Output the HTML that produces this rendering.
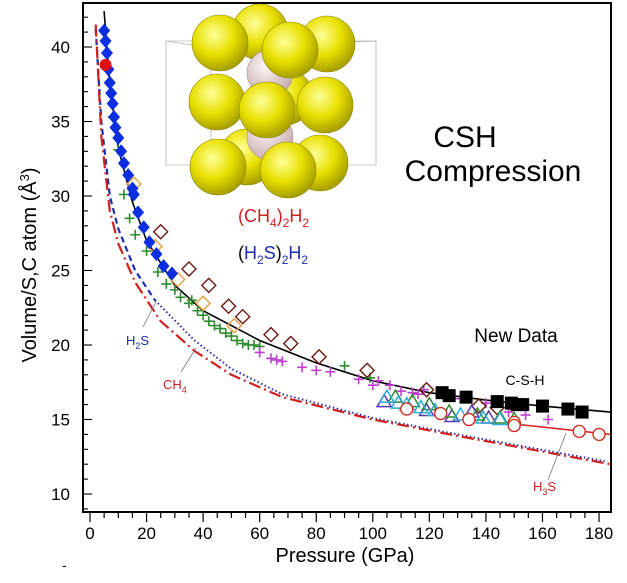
<!DOCTYPE html>
<html><head><meta charset="utf-8"><style>
html,body{margin:0;padding:0;background:#fff;}
svg{display:block;font-family:"Liberation Sans",Arial,sans-serif;}
</style></head><body>
<svg id="chart" width="627" height="583" viewBox="0 0 627 583" xmlns="http://www.w3.org/2000/svg">
<defs>
<radialGradient id="yel" cx="0.4" cy="0.35" r="0.65"><stop offset="0" stop-color="#ffff9a"/><stop offset="0.55" stop-color="#e8e000"/><stop offset="1" stop-color="#a8a000"/></radialGradient>
<radialGradient id="pnk" cx="0.4" cy="0.35" r="0.65"><stop offset="0" stop-color="#fff6f6"/><stop offset="1" stop-color="#c9aeb0"/></radialGradient>
</defs>
<rect x="83" y="3" width="528" height="509" fill="none" stroke="#000" stroke-width="2"/>
<g id="ticks"></g>
<g id="crystal"></g>
<g id="series"></g>
<text transform="translate(36,265) rotate(-90)" text-anchor="middle" font-size="20" fill="#000">Volume/S,C atom (Å<tspan dy="-7" font-size="13">3</tspan><tspan dy="7">)</tspan></text>
<text x="345" y="562" text-anchor="middle" font-size="20">Pressure (GPa)</text>
<text x="465" y="147" text-anchor="middle" font-size="30">CSH</text>
<text x="493" y="181" text-anchor="middle" font-size="30">Compression</text>
<text x="516" y="342" text-anchor="middle" font-size="19">New Data</text>
<text x="525" y="385" text-anchor="middle" font-size="14">C-S-H</text>
<text x="238" y="222" font-size="18" fill="#d02020">(CH<tspan dy="5" font-size="12">4</tspan><tspan dy="-5">)</tspan><tspan dy="5" font-size="12">2</tspan><tspan dy="-5">H</tspan><tspan dy="5" font-size="12">2</tspan></text>
<text x="238" y="259" font-size="18" fill="#1a2fb0"><tspan fill="#000">(</tspan>H<tspan dy="5" font-size="12">2</tspan><tspan dy="-5">S</tspan><tspan fill="#000">)</tspan><tspan dy="5" font-size="12">2</tspan><tspan dy="-5">H</tspan><tspan dy="5" font-size="12">2</tspan></text>
<line x1="143" y1="327" x2="156" y2="302" stroke="#777" stroke-width="0.8"/>
<text x="126" y="345" font-size="13" fill="#1a2fb0">H<tspan dy="4" font-size="9">2</tspan><tspan dy="-4">S</tspan></text>
<line x1="181" y1="372" x2="196" y2="348" stroke="#777" stroke-width="0.8"/>
<text x="163" y="389" font-size="13" fill="#d02020">CH<tspan dy="4" font-size="9">4</tspan></text>
<line x1="548" y1="480" x2="566" y2="433" stroke="#777" stroke-width="0.8"/>
<text x="533" y="491" font-size="13" fill="#d02020">H<tspan dy="4" font-size="9">3</tspan><tspan dy="-4">S</tspan></text>
<text x="62" y="570" font-size="14">-</text>
</svg>
<script>
const xTicks=[0,20,40,60,80,100,120,140,160,180];
const yTicks=[10,15,20,25,30,35,40];
const fitCSH=[[5,42.4],[7,37.5],[10,33.2],[15,29.6],[20,27.0],[30,24.0],[40,22.3],[60,20.3],[80,18.8],[100,17.6],[120,16.8],[140,16.3],[160,15.9],[184,15.5]];
const curveCH4=[[2,41.5],[4,34],[7,29],[10,26.8],[16,24.2],[25,21.6],[37,19.6],[50,18.0],[68,16.5],[100,15.0],[130,13.9],[150,13.2],[184,12.0]];
const curveH2S=[[2,41.2],[4,35],[7,30],[10,27.8],[16,25.0],[23,23.0],[37,20.3],[50,18.4],[68,16.7],[100,15.1],[130,14.0],[150,13.3],[182,12.2]];
const fitH3S=[[150,14.7],[184,14.0]];
const blueDiamondP=[5,5.5,6,6.5,7,7.5,8,8.5,9,10,11,12,13.5,15,15.5,17,19,21,23.5,26,29];
const blueDiamondV=[41.1,40.4,39.6,38.5,37.6,36.9,36.2,35.3,34.6,33.9,33.0,32.2,31.4,30.5,30.1,28.9,27.9,26.9,26.1,25.3,24.8];
const redDotP=[5.5];
const redDotV=[38.8];
const greenCrossP=[8,10,12,14,16,20,24,27,30,32,35,36,38,40,42,44,46,48,50,52,54,56,58,60,90,99];
const greenCrossV=[35.3,33.1,30.1,28.5,27.4,26.3,24.9,24.1,23.7,23.2,22.8,23.0,22.3,22.0,21.6,21.3,21.1,20.8,20.6,20.3,20.1,20.0,20.0,19.9,18.6,17.8];
const brownDiamondP=[25,35,42,49,54,64,71,81,98,119,137.5,144];
const brownDiamondV=[27.6,25.1,24.0,22.6,21.9,20.7,20.1,19.2,18.3,17.0,15.9,15.8];
const orangeDiamondP=[15.5,23,31,40,51];
const orangeDiamondV=[30.8,26.6,24.4,22.8,21.3];
const purpleCrossP=[60,64,66,68,75,80,85,95,100,102,106,110,114,116,118,124,131,140,148,154,162];
const purpleCrossV=[19.5,19.1,19.0,18.9,18.5,18.3,18.2,17.7,17.3,17.6,17.3,16.9,16.8,16.7,17.0,16.9,16.4,16.1,15.5,15.3,15.0];
const triCyanP=[105,109,112,117,122,131,139,145];
const triCyanV=[16.5,16.1,16.0,15.8,15.6,15.3,15.1,15.0];
const triGreenP=[108,114,120,127,137,145,150];
const triGreenV=[16.5,16.2,16.0,15.5,15.3,15.1,15.0];
const triPurpleP=[104,119,128,135,141];
const triPurpleV=[16.2,15.6,15.2,15.5,15.1];
const redCircleP=[112,124,134,150,150,173,180];
const redCircleV=[15.7,15.4,15.0,14.8,14.6,14.2,14.0];
const blackSquareP=[124.5,127,133,144,149,151,153,160,169,174];
const blackSquareV=[16.8,16.6,16.5,16.2,16.1,16.0,16.0,15.9,15.7,15.5];

const NS='http://www.w3.org/2000/svg';
const X=p=>90+2.828*p, Y=v=>494-14.9*(v-10);
function mk(tag,attrs,parent){const e=document.createElementNS(NS,tag);for(const k in attrs)e.setAttribute(k,attrs[k]);parent.appendChild(e);return e;}
const tg=document.getElementById('ticks');
for(let p=0;p<=180;p+=5){const big=p%20===0;const l=mk('line',{x1:X(p),x2:X(p),y1:512,y2:512+(big?10:6),stroke:'#000','stroke-width':1.2},tg);

}
xTicks.forEach(p=>{const t=mk('text',{x:X(p),y:539,'text-anchor':'middle','font-size':17},tg);t.textContent=p;

});
for(let v=9;v<=42;v++){const big=v%5===0;const l=mk('line',{x1:83,x2:83+(big?9:5),y1:Y(v),y2:Y(v),stroke:'#000','stroke-width':1.1},tg);

}
yTicks.forEach(v=>{const t=mk('text',{x:70,y:Y(v)+6,'text-anchor':'end','font-size':17},tg);t.textContent=v;

});

// crystal
const cg=document.getElementById('crystal');
mk('polygon',{points:'166,41 376,41 376,165 166,165',fill:'none',stroke:'#999','stroke-width':0.6},cg);
mk('polyline',{points:'166,41 211,48 376,41 M',fill:'none',stroke:'#999','stroke-width':0.6},cg);
mk('line',{x1:211,y1:48,x2:211,y2:170,stroke:'#999','stroke-width':0.6},cg);
const balls=[[260,32,'y'],[327,44,'y'],[285,97,'y'],[247,157,'y'],[320,163,'y'],[270,73,'p'],[270,137,'p'],[220,43,'y'],[290,50,'y'],[217,102,'y'],[325,105,'y'],[267,110,'y'],[218,167,'y'],[288,170,'y']];
balls.forEach(b=>{const c=mk('circle',{cx:b[0],cy:b[1],r:b[2]==='y'?28:23,fill:b[2]==='y'?'url(#yel)':'url(#pnk)',stroke:b[2]==='y'?'#8a8200':'#a89090','stroke-width':0.6},cg);

});

const sg=document.getElementById('series');
function line(pts,attrs,name){const d=pts.map((q,i)=>(i?'L':'M')+X(q[0]).toFixed(1)+','+Y(q[1]).toFixed(1)).join(' ');
const e=mk('path',Object.assign({d:d,fill:'none'},attrs),sg);

}
line(curveH2S.slice(0,6),{stroke:'#1a2fb0','stroke-width':2.2,'stroke-dasharray':'6,4'},'h2s-curve-dashed');
line(curveH2S.slice(5),{stroke:'#2a2fa0','stroke-width':2,'stroke-dasharray':'1.5,2.5'},'h2s-curve-dotted');
line(curveCH4,{stroke:'#d02020','stroke-width':2.2,'stroke-dasharray':'12,4,2,4'},'ch4-curve');
line(fitCSH,{stroke:'#000','stroke-width':1.6},'csh-fit-curve');
line(fitH3S,{stroke:'#d02020','stroke-width':1.5},'h3s-fit-curve');

function pts(P,V,shape,color,name){P.forEach((p,i)=>{const x=X(p),y=Y(V[i]);let e;
if(shape==='dfill')e=mk('polygon',{points:`${x},${y-7} ${x+6},${y} ${x},${y+7} ${x-6},${y}`,fill:color},sg);
else if(shape==='dopen')e=mk('polygon',{points:`${x},${y-7} ${x+7},${y} ${x},${y+7} ${x-7},${y}`,fill:'none',stroke:color,'stroke-width':1.4},sg);
else if(shape==='plus')e=mk('path',{d:`M${x-5},${y}H${x+5}M${x},${y-5}V${y+5}`,stroke:color,'stroke-width':1.6},sg);
else if(shape==='tri')e=mk('polygon',{points:`${x},${y-7} ${x+7},${y+5} ${x-7},${y+5}`,fill:'none',stroke:color,'stroke-width':1.5},sg);
else if(shape==='circ')e=mk('circle',{cx:x,cy:y,r:6,fill:'#fff',stroke:color,'stroke-width':1.4},sg);
else if(shape==='dot')e=mk('circle',{cx:x,cy:y,r:6,fill:color},sg);
else if(shape==='sq')e=mk('rect',{x:x-6.5,y:y-6.5,width:13,height:13,fill:color},sg);

});}
pts(greenCrossP,greenCrossV,'plus','#2e8b2e','green-cross-point');
pts(purpleCrossP,purpleCrossV,'plus','#c040d0','purple-cross-point');
pts(orangeDiamondP,orangeDiamondV,'dopen','#e8a040','orange-diamond-point');
pts(brownDiamondP,brownDiamondV,'dopen','#6a1a10','brown-diamond-point');
pts(triPurpleP,triPurpleV,'tri','#5a3ab0','purple-triangle-point');
pts(triGreenP,triGreenV,'tri','#2e8b2e','green-triangle-point');
pts(triCyanP,triCyanV,'tri','#30a8d8','cyan-triangle-point');
pts(redCircleP,redCircleV,'circ','#d03020','red-circle-point');
pts(blueDiamondP,blueDiamondV,'dfill','#0a2ee0','blue-diamond-point');
pts(redDotP,redDotV,'dot','#e01010','red-dot-point');
pts(blackSquareP,blackSquareV,'sq','#000','black-square-point');
</script>
</body></html>
